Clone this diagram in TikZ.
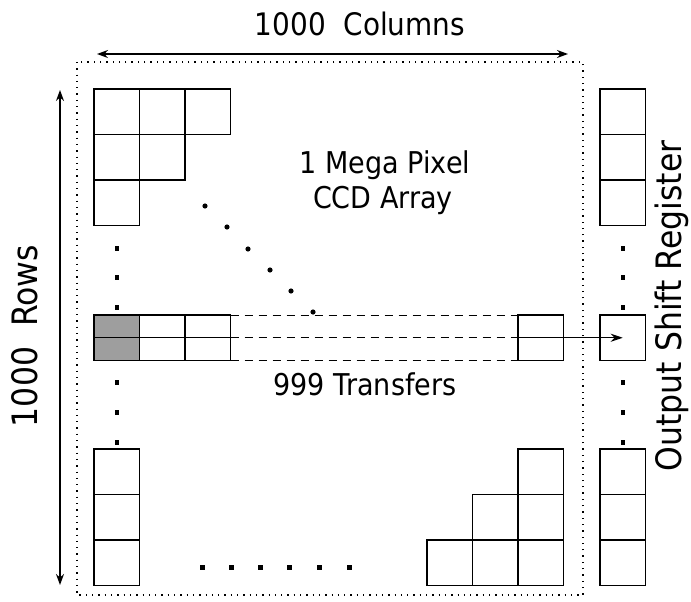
\documentclass[tikz,border=0pt]{standalone}
\usepackage{fontspec}
\setmainfont{DejaVu Sans}[FakeStretch=0.9]
\usetikzlibrary{arrows.meta}
\begin{document}
\begin{tikzpicture}[x=1pt,y=-1pt,
  cell/.style={draw,line width=1.4pt,minimum width=45.5pt,minimum height=45.5pt,inner sep=0pt,outer sep=0pt,anchor=north west},
  shaded/.style={cell,fill=black!38},
  frame/.style={line width=1.3pt,dash pattern=on 1.3pt off 5pt},
  transfer/.style={line width=1pt,dash pattern=on 8pt off 6pt},
  dotsq/.style={fill=black},
  biglbl/.style={font=\fontsize{31}{36}\selectfont},
  rowlbl/.style={font=\fontsize{35}{40}\selectfont},
  txt/.style={font=\fontsize{30}{35}\selectfont},
  dimarrow/.style={line width=1.2pt,{Stealth[length=11pt,width=8pt]}-{Stealth[length=11pt,width=8pt]}}
]
\useasboundingbox (0,0) rectangle (691,602);

% dotted frame
\draw[frame] (77,62) rectangle (583,595);

% dimension arrows and labels
\coordinate (colL) at (97,54);
\coordinate (colR) at (568,54);
\draw[dimarrow] (colL) -- (colR);
\node[biglbl] (cols) at (360,24) {1000~~Columns};
\coordinate (rowT) at (60,90);
\coordinate (rowB) at (60,585);
\draw[dimarrow] (rowT) -- (rowB);
\node[rowlbl,rotate=90] (rows) at (25,336) {1000~~Rows};

% top-left corner cells
\node[cell] (a11) at (94,89) {};
\node[cell] (a12) at (139.5,89) {};
\node[cell] (a13) at (185,89) {};
\node[cell] (a21) at (94,134.5) {};
\node[cell] (a22) at (139.5,134.5) {};
\node[cell] (a31) at (94,180) {};

% middle row
\node[shaded] (m1) at (94,315) {};
\node[cell] (m2) at (139.5,315) {};
\node[cell] (m3) at (185,315) {};
\node[cell] (mr) at (518,315) {};
\draw[line width=1.3pt] (m1.west) -- (m3.east);
\draw[line width=1.3pt] (mr.west) -- (mr.east);
\draw[transfer] (m3.north east) -- (mr.north west);
\draw[transfer] (m3.east) -- (mr.west);
\draw[transfer] (m3.south east) -- (mr.south west);

% output shift register
\node[cell] (r1) at (600,89) {};
\node[cell] (r2) at (600,134.5) {};
\node[cell] (r3) at (600,180) {};
\node[cell] (rm) at (600,315) {};
\node[cell] (r4) at (600,449) {};
\node[cell] (r5) at (600,494.5) {};
\node[cell] (r6) at (600,540) {};
\draw[line width=1.2pt,-{Stealth[length=12pt,width=8pt]}] (mr.east) -- (rm.center);

% bottom-left cells
\node[cell] (b1) at (94,449) {};
\node[cell] (b2) at (94,494.5) {};
\node[cell] (b3) at (94,540) {};

% bottom-right cells
\node[cell] (c13) at (518,449) {};
\node[cell] (c22) at (472.5,494.5) {};
\node[cell] (c23) at (518,494.5) {};
\node[cell] (c31) at (427,540) {};
\node[cell] (c32) at (472.5,540) {};
\node[cell] (c33) at (518,540) {};

% ellipsis dots
\foreach \yy in {248,277,307,382,412,442}{
  \fill[dotsq] (114.5,\yy-2) rectangle +(4.5,4.5);
  \fill[dotsq] (620.5,\yy-2) rectangle +(4.5,4.5);
}
\foreach \xx in {202,231,260,289,319,349}{
  \fill[dotsq] (\xx-2,565) rectangle +(4.5,4.5);
}
\foreach \xx/\yy in {205/206,227/227,248/249,270/270,291/291,313/312}{
  \fill[dotsq] (\xx,\yy) circle (2.6);
}

% texts
\node[txt,anchor=base] (t1) at (385,173) {1 Mega Pixel};
\node[txt,anchor=base] (t2) at (383,208) {CCD Array};
\node[txt,anchor=base] (t3) at (365,395) {999 Transfers};
\node[rowlbl,rotate=90] (osr) at (672,306) {Output Shift Register};
\end{tikzpicture}
\end{document}
